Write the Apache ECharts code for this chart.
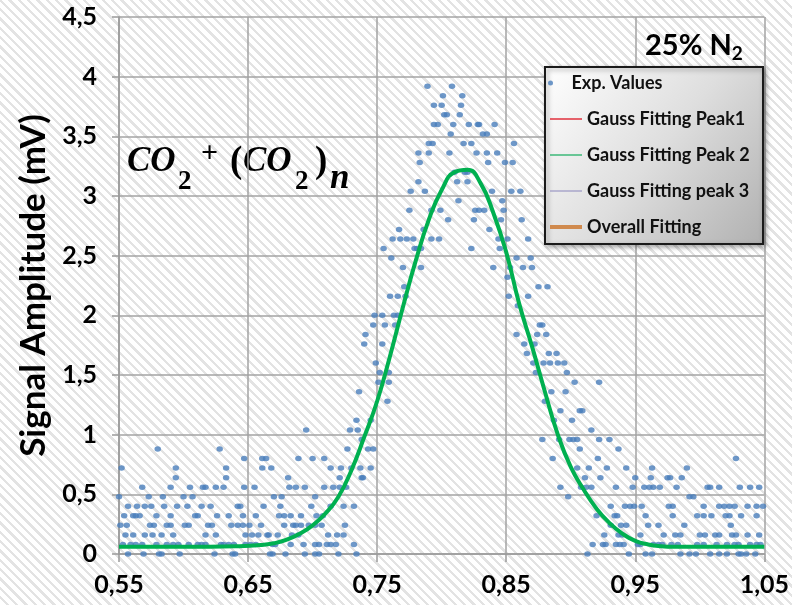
<!DOCTYPE html>
<html><head><meta charset="utf-8">
<script src="https://cdn.jsdelivr.net/npm/echarts@6/dist/echarts.min.js"></script>
<style>
html,body{margin:0;padding:0;}
body{width:792px;height:605px;background:repeating-linear-gradient(45deg,#ffffff 0px,#ffffff 4.4px,#e3e3e3 4.4px,#e3e3e3 6.6px);}
#c{width:792px;height:605px;}
</style></head><body><div id="c"></div>
<script>
// Experimental values: y level (mV) and the x positions of the points on that level
const expLevels = [3.92,3.84,3.76,3.68,3.60,3.52,3.44,3.36,3.28,3.20,3.12,3.04,2.96,2.88,2.80,2.72,2.64,2.56,2.48,2.40,2.32,2.24,2.16,2.08,2.00,1.92,1.84,1.76,1.68,1.60,1.52,1.44,1.36,1.28,1.20,1.12,1.04,0.96,0.88,0.80,0.72,0.64,0.56,0.48,0.40,0.32,0.24,0.16,0.08,0.00];
const expXs = [
 [0.789,0.808],
 [0.801,0.816],
 [0.794,0.800,0.815],
 [0.802,0.804,0.814],
 [0.794,0.797,0.809,0.821,0.828,0.829,0.841],
 [0.807,0.832,0.835],
 [0.790,0.793,0.817,0.823,0.856],
 [0.782,0.790,0.806,0.827,0.835,0.843],
 [0.783,0.836,0.849,0.855],
 [0.810,0.818,0.820],
 [0.782,0.812,0.820],
 [0.776,0.787,0.839,0.854,0.861],
 [0.813,0.847],
 [0.775,0.792,0.799,0.826,0.829,0.833,0.848],
 [0.805,0.825,0.846,0.862],
 [0.767,0.786,0.837],
 [0.762,0.768,0.773,0.778,0.792,0.798,0.844,0.851,0.867],
 [0.755,0.779,0.781,0.784,0.823,0.845],
 [0.761,0.858,0.869],
 [0.770,0.784,0.840,0.853,0.863,0.870],
 [0.851],
 [0.771,0.875,0.882],
 [0.760,0.766,0.772,0.852,0.867],
 [0.859],
 [0.748,0.754,0.763,0.766],
 [0.747,0.756,0.764,0.876,0.878],
 [0.741,0.858,0.874,0.881],
 [0.740,0.754,0.864,0.872],
 [0.866,0.883,0.889],
 [0.749,0.871,0.879,0.884,0.890,0.895],
 [0.752,0.759,0.873,0.897],
 [0.751,0.759,0.903,0.922],
 [0.736,0.885,0.896],
 [0.758,0.880],
 [0.892,0.907,0.909],
 [0.734,0.745,0.887,0.901],
 [0.695,0.729,0.735,0.916],
 [0.738,0.878,0.891,0.899,0.902,0.905,0.922,0.930],
 [0.580,0.628,0.727,0.743,0.747,0.907,0.937],
 [0.647,0.661,0.664,0.689,0.700,0.709,0.886,0.921,1.028],
 [0.552,0.594,0.633,0.661,0.668,0.714,0.722,0.730,0.737,0.745,0.905,0.914,0.928,0.943,0.963,0.990],
 [0.594,0.633,0.681,0.721,0.738,0.739,0.911,0.923,0.950,0.962,0.975,0.977,0.986],
 [0.568,0.590,0.605,0.615,0.617,0.625,0.631,0.647,0.655,0.682,0.687,0.694,0.709,0.716,0.721,0.726,0.892,0.908,0.912,0.916,0.935,0.948,0.957,0.961,0.964,0.969,0.982,1.006,1.008,1.015,1.031,1.039,1.046],
 [0.550,0.573,0.584,0.600,0.607,0.670,0.676,0.702,0.898,0.992,0.995],
 [0.557,0.564,0.570,0.575,0.585,0.595,0.603,0.614,0.621,0.642,0.644,0.662,0.675,0.699,0.714,0.724,0.732,0.931,0.942,0.946,0.949,0.955,0.976,0.979,1.003,1.015,1.019,1.023,1.027,1.037,1.044,1.049],
 [0.554,0.561,0.563,0.566,0.579,0.590,0.609,0.611,0.626,0.635,0.646,0.656,0.674,0.678,0.683,0.691,0.703,0.708,0.920,0.934,0.936,0.958,0.979,0.998,1.003,1.009,1.020,1.023,1.032,1.044],
 [0.551,0.556,0.574,0.577,0.587,0.590,0.601,0.604,0.619,0.622,0.637,0.642,0.646,0.651,0.660,0.678,0.685,0.687,0.691,0.697,0.702,0.707,0.725,0.931,0.939,0.943,0.960,0.968,0.988,1.024],
 [0.555,0.561,0.570,0.576,0.583,0.592,0.617,0.625,0.648,0.653,0.658,0.665,0.666,0.673,0.684,0.689,0.712,0.719,0.724,0.926,0.937,0.940,0.954,0.972,0.981,0.985,1.000,1.004,1.012,1.015,1.025,1.028,1.037,1.046],
 [0.553,0.559,0.563,0.568,0.579,0.587,0.592,0.596,0.604,0.611,0.614,0.617,0.629,0.631,0.635,0.639,0.648,0.652,0.656,0.669,0.671,0.683,0.693,0.702,0.705,0.711,0.714,0.718,0.732,0.917,0.925,0.927,0.935,0.938,0.941,0.952,0.954,0.964,0.968,0.971,0.978,0.983,0.998,1.003,1.013,1.021,1.027,1.030,1.039,1.044,1.047],
 [0.557,0.569,0.581,0.583,0.597,0.624,0.638,0.640,0.667,0.669,0.679,0.694,0.702,0.705,0.720,0.734,0.913,0.945,0.958,0.963,0.985,0.992,0.997,1.008,1.015,1.021,1.030,1.032,1.036,1.043]
];
// Gauss fitting peak 2
const fitX = [0.55,0.60,0.64,0.66,0.67,0.68,0.69,0.70,0.71,0.72,0.73,0.74,0.75,0.76,0.77,0.78,0.79,0.80,0.81,0.82,0.83,0.84,0.85,0.86,0.87,0.88,0.89,0.90,0.91,0.92,0.93,0.94,0.95,0.96,0.97,0.98,1.00,1.05];
const fitY = [0.06,0.06,0.065,0.075,0.09,0.12,0.17,0.24,0.34,0.48,0.70,0.98,1.28,1.66,2.07,2.46,2.80,3.05,3.20,3.22,3.11,2.86,2.53,2.10,1.74,1.36,1.00,0.73,0.54,0.38,0.26,0.17,0.11,0.08,0.065,0.06,0.06,0.06];
const xTicks = {min:0.55, max:1.05, step:0.1};
const yTicks = {min:0, max:4.5, step:0.5};
const seriesNames = ['Exp. Values','Gauss Fitting Peak1','Gauss Fitting Peak 2','Gauss Fitting peak 3','Overall Fitting'];

const expPoints = [];
expLevels.forEach((y,i)=>expXs[i].forEach(x=>expPoints.push([x,y])));
const fitPoints = fitX.map((x,i)=>[x,fitY[i]]);

const lblFont = {fontFamily:'Lato', fontWeight:'bold', color:'#000'};
const legText = {fontFamily:'Lato', fontWeight:'bold', fontSize:18, color:'#111', lineHeight:20};
const serifBI = {fontFamily:'Liberation Serif', fontStyle:'italic', fontWeight:'bold', fill:'#000'};
const serifB = {fontFamily:'Liberation Serif', fontWeight:'bold', fill:'#000'};

const chart = echarts.init(document.getElementById('c'), null, {renderer:'canvas'});
chart.setOption({
  animation:false,
  backgroundColor:'transparent',
  grid:{left:119, right:25, top:17, bottom:51},
  xAxis:{type:'value', min:xTicks.min, max:xTicks.max, interval:xTicks.step,
    axisLine:{show:true, onZero:false, lineStyle:{color:'#9a9a9a', width:1.5}},
    axisTick:{show:true, length:8, lineStyle:{color:'#9a9a9a', width:1.5}},
    splitLine:{show:true, lineStyle:{color:'#a3a3a3', width:1.5}},
    axisLabel:Object.assign({fontSize:25, margin:18, formatter:v=>v.toFixed(2).replace('.',',')}, lblFont)},
  yAxis:{type:'value', min:yTicks.min, max:yTicks.max, interval:yTicks.step,
    name:'Signal Amplitude (mV)', nameLocation:'middle', nameGap:67,
    nameTextStyle:Object.assign({fontSize:35}, lblFont),
    axisLine:{show:true, lineStyle:{color:'#9a9a9a', width:1.5}},
    axisTick:{show:true, length:7, lineStyle:{color:'#9a9a9a', width:1.5}},
    splitLine:{show:true, lineStyle:{color:'#a3a3a3', width:1.5}},
    axisLabel:Object.assign({fontSize:25, margin:22, formatter:v=>String(v).replace('.',',')}, lblFont)},
  legend:[
    {data:[{name:seriesNames[0], icon:'circle'}], left:548, top:73, padding:0, itemWidth:32, itemHeight:5, textStyle:legText, z:6},
    {data:[
      {name:seriesNames[1], lineStyle:{width:1.5, color:'#e0303c'}},
      {name:seriesNames[2], lineStyle:{width:1.5, color:'#3cb878'}},
      {name:seriesNames[3], lineStyle:{width:1.2, color:'#9a96c4'}},
      {name:seriesNames[4], lineStyle:{width:4, color:'#d08a4e'}}],
     itemStyle:{opacity:0},
     orient:'vertical', left:548, top:109, padding:0, itemWidth:32, itemHeight:14, itemGap:16, textStyle:legText, z:6}
  ],
  graphic:[
    {type:'rect', z:5, shape:{x:545, y:67, width:218, height:177},
     style:{fill:{type:'linear', x:0, y:0, x2:1, y2:1, colorStops:[{offset:0,color:'#ffffff'},{offset:0.5,color:'#dedede'},{offset:1,color:'#b0b0b0'}]},
            stroke:'#1a1a1a', lineWidth:2, shadowBlur:5, shadowOffsetX:2, shadowOffsetY:2, shadowColor:'rgba(0,0,0,0.35)'}},
    {type:'text', z:6, left:645, top:31, style:{text:'{a|25% N}{s|2}', rich:{
      a:{fontFamily:'Lato', fontWeight:'bold', fontSize:29, fill:'#000', lineHeight:36, verticalAlign:'middle'},
      s:{fontFamily:'Lato', fontWeight:'bold', fontSize:19, fill:'#000', lineHeight:18, verticalAlign:'bottom'}}}},
    {type:'group', z:6, children:[
      {type:'text', x:127, y:162, style:Object.assign({text:'CO', fontSize:35, verticalAlign:'middle'}, serifBI)},
      {type:'text', x:178, y:182, style:Object.assign({text:'2', fontSize:27, verticalAlign:'middle'}, serifB)},
      {type:'text', x:201, y:154, style:Object.assign({text:'+', fontSize:30, verticalAlign:'middle'}, serifB)},
      {type:'text', x:230, y:162, style:Object.assign({text:'(', fontSize:37, verticalAlign:'middle'}, serifB)},
      {type:'text', x:243, y:162, style:Object.assign({text:'CO', fontSize:35, verticalAlign:'middle'}, serifBI)},
      {type:'text', x:295, y:182, style:Object.assign({text:'2', fontSize:27, verticalAlign:'middle'}, serifB)},
      {type:'text', x:315, y:162, style:Object.assign({text:')', fontSize:37, verticalAlign:'middle'}, serifB)},
      {type:'text', x:330, y:179, style:Object.assign({text:'n', fontSize:35, verticalAlign:'middle'}, serifBI)}
    ]}
  ],
  series:[
    {name:seriesNames[0], type:'scatter', data:expPoints, symbol:'circle', symbolSize:[6.5,5.5], itemStyle:{color:'#4a7ebb'}, z:2, clip:false},
    {name:seriesNames[1], type:'line', data:[], symbol:'none', lineStyle:{color:'#e0303c', width:1.5}, itemStyle:{color:'#e0303c'}},
    {name:seriesNames[2], type:'line', data:fitPoints, symbol:'none', smooth:0.5, lineStyle:{color:'#00b050', width:4}, itemStyle:{color:'#3cb878'}, z:3},
    {name:seriesNames[3], type:'line', data:[], symbol:'none', lineStyle:{color:'#9a96c4', width:1.2}, itemStyle:{color:'#9a96c4'}},
    {name:seriesNames[4], type:'line', data:[], symbol:'none', lineStyle:{color:'#d08a4e', width:4}, itemStyle:{color:'#d08a4e'}}
  ]
});
</script></body></html>
